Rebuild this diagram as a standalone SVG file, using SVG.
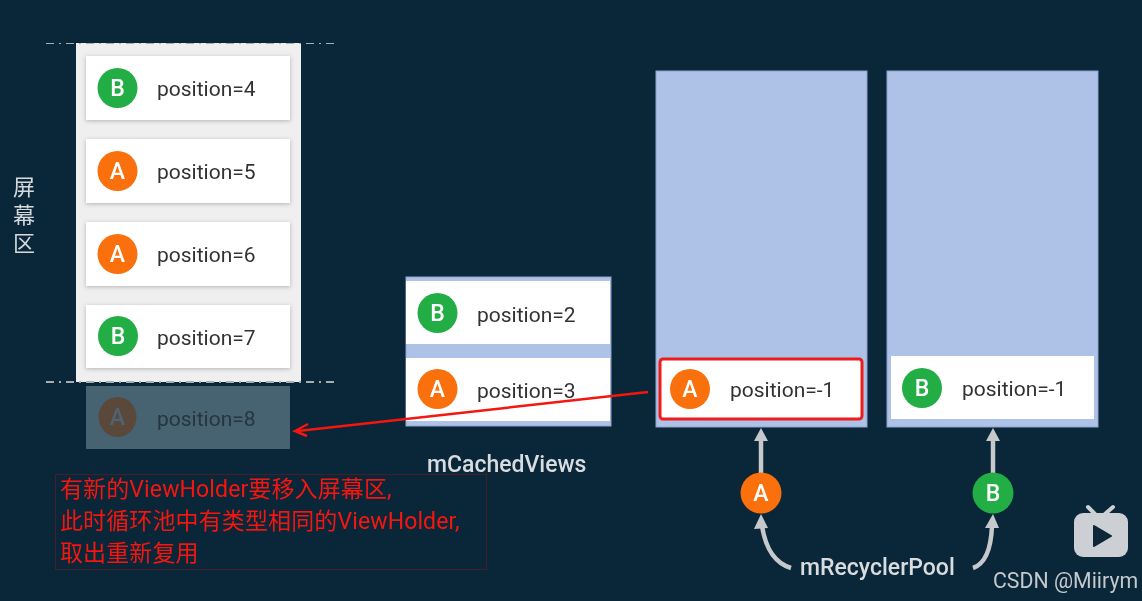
<svg xmlns="http://www.w3.org/2000/svg" width="1142" height="601" viewBox="0 0 1142 601">
<defs>
<style>
.card{fill:#fff}
.shadow{fill:#fff;filter:url(#sh)}
.pos{font:21px Roboto,"Liberation Sans",sans-serif;fill:#333}
.let{font:500 23px Roboto,"Liberation Sans",sans-serif;fill:#fff;text-anchor:middle}
.ca{fill:#f96f0b}.cb{fill:#20ad45}
.lab{font:500 23px Roboto,"Liberation Sans",sans-serif;fill:#d8dcdf}
.cn{font:22px "Noto Sans CJK SC",sans-serif;fill:#d5d9dc;writing-mode:vertical-rl;letter-spacing:6px}
.red{font:23px Roboto,"Noto Sans CJK SC",sans-serif;fill:#f5150f;letter-spacing:.12px}
.blue{fill:#aec1e7;stroke:#8fa3cc;stroke-width:1}
.dash{stroke:#a9adb0;stroke-width:2;stroke-dasharray:8 5 2 5;fill:none}
.g{stroke:#c6c9cb;stroke-width:4.500;fill:none}
.gh{fill:#c6c9cb}
</style>
<filter id="sh" x="-5%" y="-10%" width="110%" height="120%"><feDropShadow dx="0" dy="1" stdDeviation="2" flood-color="#000" flood-opacity=".25"/></filter>
<filter id="soft" x="0" y="0" width="100%" height="100%"><feGaussianBlur stdDeviation="0.45"/></filter>
</defs>
<rect width="1142" height="601" fill="#0a2639"/>
<g filter="url(#soft)">
<g id="screen">
<rect x="76" y="43" width="225" height="339" fill="#efefef"/>
</g>
<g id="screen-label"><text class="cn" x="24" y="176">屏幕区</text></g>
<g id="card4"><rect class="shadow" x="86" y="56" width="204" height="64"/><circle class="cb" cx="117.500" cy="88" r="20"/><text class="let" x="117.500" y="96">B</text><text class="pos" x="157" y="96">position=4</text></g>
<g id="card5"><rect class="shadow" x="86" y="139" width="204" height="64"/><circle class="ca" cx="117.500" cy="171" r="20"/><text class="let" x="117.500" y="179">A</text><text class="pos" x="157" y="179">position=5</text></g>
<g id="card6"><rect class="shadow" x="86" y="222" width="204" height="64"/><circle class="ca" cx="117.500" cy="254" r="20"/><text class="let" x="117.500" y="262">A</text><text class="pos" x="157" y="262">position=6</text></g>
<g id="card7"><rect class="shadow" x="86" y="305" width="204" height="63"/><circle class="cb" cx="118" cy="336" r="20"/><text class="let" x="118" y="344">B</text><text class="pos" x="157" y="345">position=7</text></g>
<g id="card8"><rect x="86" y="386" width="204" height="63" fill="#476270"/><ellipse cx="117.500" cy="417" rx="19" ry="20" fill="#5a4a3a"/><text class="let" x="117.500" y="425" style="fill:#4d6473">A</text><text class="pos" x="157" y="426" style="fill:#25363f">position=8</text></g>
<g id="dash-lines"><path class="dash" d="M46 43H338"/><path class="dash" d="M46 382H338"/></g>
<g id="cached"><rect class="blue" x="406" y="277" width="205" height="149"/><rect class="card" x="406" y="281" width="204" height="63"/><rect class="card" x="406" y="358" width="204" height="63"/>
<circle class="cb" cx="437.500" cy="313" r="20"/><text class="let" x="437.500" y="321">B</text><text class="pos" x="477" y="322">position=2</text>
<circle class="ca" cx="437.500" cy="389" r="20"/><text class="let" x="437.500" y="397">A</text><text class="pos" x="477" y="398">position=3</text>
<text class="lab" x="427" y="472">mCachedViews</text></g>
<g id="pool-a"><rect class="blue" x="656" y="71" width="211" height="356"/><rect class="card" x="660" y="359" width="202" height="60" rx="3" stroke="#ee1c1c" stroke-width="3"/><circle class="ca" cx="690" cy="389" r="20"/><text class="let" x="690" y="397">A</text><text class="pos" x="730" y="397">position=-1</text></g>
<g id="pool-b"><rect class="blue" x="887" y="71" width="211" height="356"/><rect class="card" x="891" y="356" width="203" height="63"/><circle class="cb" cx="922" cy="388" r="20"/><text class="let" x="922" y="396">B</text><text class="pos" x="962" y="396">position=-1</text></g>
<g id="connectors">
<path class="g" d="M761 473V440"/><path class="gh" d="M761 428l7 13h-14z"/>
<path class="g" d="M993 473V440"/><path class="gh" d="M993 428l7 13h-14z"/>
<path class="g" d="M791 568C775 563 766 550 762 526"/><path class="gh" d="M761 514l7 14-14 1z"/>
<path class="g" d="M973 568C985 564 991 550 992 526"/><path class="gh" d="M993 514l6 14-14 0z"/>
<path d="M648 392L298 431" stroke="#f5150f" stroke-width="2.500" fill="none"/><path d="M308 424L295 431 307 436" stroke="#f5150f" stroke-width="2.500" fill="none"/>
</g>
<g id="node-a"><circle class="ca" cx="761" cy="493" r="20.500"/><text class="let" x="761" y="501">A</text></g>
<g id="node-b"><circle class="cb" cx="993" cy="493" r="20.500"/><text class="let" x="993" y="501">B</text></g>
<g id="pool-label"><text class="lab" x="800" y="575">mRecyclerPool</text></g>
<g id="note"><rect x="55.500" y="474.500" width="431" height="95" fill="none" stroke="#4a1f2a"/>
<text class="red" x="60" y="497">有新的ViewHolder要移入屏幕区,</text>
<text class="red" x="60" y="529">此时循环池中有类型相同的ViewHolder,</text>
<text class="red" x="60" y="561">取出重新复用</text></g>
<g id="watermark">
<path d="M1088 507l7 7M1113 507l-8 7" stroke="#ccd0d4" stroke-width="4" stroke-linecap="round"/>
<rect x="1074" y="513" width="54" height="44" rx="9" fill="#ccd0d4"/><path d="M1094 526l17 10-17 10z" fill="#0a2639" stroke="#0a2639" stroke-width="2" stroke-linejoin="round"/>
<text x="993" y="588" style="font:21.300px Roboto,'Liberation Sans',sans-serif;fill:#c4c9cd">CSDN @Miirym</text></g>
</g>
</svg>
